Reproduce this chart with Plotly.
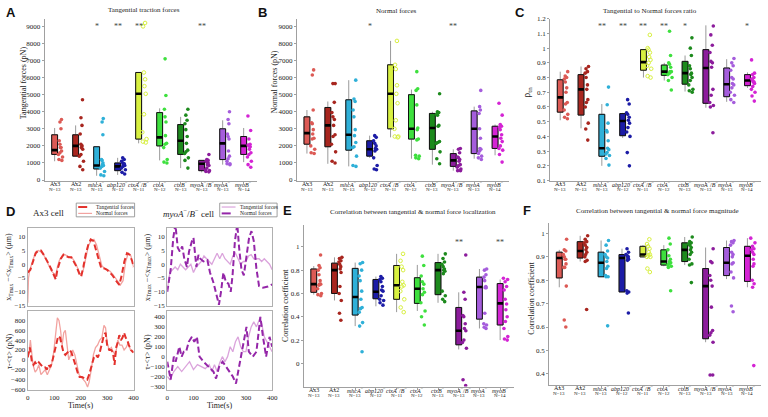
import plotly.graph_objects as go

W, H = 768, 417

# ---------------- data ----------------
categories = ["Ax3", "Ax2", "mhcA", "abp120", "ctxA/B", "ctxA", "ctxB", "myoA/B", "myoA", "myoB"]
tick_labels = ["Ax3", "Ax2", "<i>mhcA</i><sup>−</sup>", "<i>abp120</i><sup>−</sup>",
               "<i>ctxA</i><sup>−</sup>/<i>B</i><sup>−</sup>", "<i>ctxA</i><sup>−</sup>",
               "<i>ctxB</i><sup>−</sup>", "<i>myoA</i><sup>−</sup>/<i>B</i><sup>−</sup>",
               "<i>myoA</i><sup>−</sup>", "<i>myoB</i><sup>−</sup>"]
n_counts = [13, 13, 13, 12, 11, 12, 13, 13, 13, 14]
colors = ["#dc5a55", "#a8261f", "#2fb0d8", "#1c1ca6", "#d8f040", "#3ee03e",
          "#1d8a1d", "#8c1c9c", "#a55ddc", "#d424d4"]

# Panel A: tangential traction forces (pN)
A_pts = [
    [3550, 3400, 3000, 2300, 2100, 1900, 1900, 1700, 1600, 1500, 1350, 1200, 1150],
    [4700, 3650, 3200, 2700, 2100, 2000, 1900, 1800, 1500, 1400, 1100, 800, 600],
    [3600, 3400, 2650, 1200, 1150, 1000, 900, 850, 800, 700, 500, 300, 250],
    [1300, 1200, 1100, 1000, 950, 900, 850, 800, 700, 600, 450, 350],
    [9200, 9000, 6300, 5900, 5500, 5050, 3850, 2800, 2400, 2250, 2200],
    [7100, 4950, 4150, 3700, 3400, 2600, 2150, 2100, 1900, 1200, 1050, 1000],
    [4150, 3800, 3500, 3300, 2950, 2550, 2150, 1750, 1650, 1550, 1300, 1150, 700],
    [1500, 1200, 1150, 1100, 1050, 1000, 900, 850, 700, 600, 550, 500, 480],
    [4000, 3550, 3300, 2700, 2550, 2400, 1700, 1400, 1250, 1100, 950, 950, 900],
    [3750, 2900, 2400, 2100, 2050, 2000, 1950, 1800, 1600, 1500, 1350, 1100, 900, 750],
]
A_q1 = [1500, 1400, 650, 550, 2400, 2000, 1500, 550, 1200, 1500]
A_med = [1750, 2000, 850, 800, 5050, 2500, 2300, 950, 2150, 2000]
A_q3 = [2650, 2650, 1950, 1000, 6300, 3950, 3250, 1150, 3000, 2550]
A_lo = [1100, 1400, 250, 300, 2150, 1150, 700, 450, 900, 1050]
A_hi = [3050, 3200, 1950, 1300, 6300, 4200, 3700, 1150, 3500, 3050]
A_stars = ["", "", "*", "**", "**", "", "", "**", "", ""]

# Panel B: normal forces (pN)
B_pts = [
    [6450, 6150, 4100, 3350, 3300, 2950, 2700, 2450, 2400, 2000, 1800, 1600, 1550],
    [5650, 5650, 4550, 3950, 3700, 3550, 3200, 2650, 2550, 2100, 1650, 1100, 1000],
    [5850, 4750, 4600, 4100, 3700, 2950, 2600, 2200, 1950, 1900, 1400, 850, 800],
    [2600, 2500, 2300, 2150, 2000, 1850, 1800, 1700, 1300, 850, 650, 600],
    [8150, 6750, 6500, 5550, 5050, 4500, 3500, 3000, 2550, 2500, 2550],
    [6350, 5350, 5250, 4400, 3050, 2950, 2400, 2350, 1450, 1400, 1300, 1250],
    [5050, 4000, 3950, 3850, 3800, 3200, 3150, 2250, 2200, 2150, 1650, 1250, 950],
    [1850, 1800, 1600, 1350, 1300, 1200, 1100, 900, 850, 750, 650, 550, 550],
    [5250, 4300, 4100, 3900, 3000, 2450, 1850, 1800, 1700, 1550, 1400, 1300, 1200],
    [4500, 3800, 3250, 3150, 3100, 2950, 2650, 2450, 2250, 2000, 1850, 1750, 1500, 1050],
]
B_q1 = [2100, 1950, 1750, 1400, 3000, 2400, 1800, 800, 1550, 1850]
B_med = [2750, 3200, 2650, 1800, 5050, 3000, 3050, 1150, 3000, 2550]
B_q3 = [3700, 4250, 4700, 2300, 6750, 5000, 3900, 1550, 4050, 3150]
B_lo = [1550, 950, 800, 1300, 2500, 1250, 900, 550, 1250, 1450]
B_hi = [4100, 4600, 5850, 2600, 8150, 5300, 4000, 1800, 4300, 3250]
B_stars = ["", "", "", "*", "", "", "", "**", "", ""]

# Panel C: tangential to normal force ratio
C_pts = [
    [0.84, 0.81, 0.80, 0.79, 0.77, 0.73, 0.70, 0.63, 0.62, 0.58, 0.55, 0.53, 0.52],
    [0.875, 0.86, 0.84, 0.83, 0.80, 0.75, 0.72, 0.65, 0.63, 0.60, 0.49, 0.45, 0.375],
    [0.735, 0.615, 0.49, 0.44, 0.43, 0.37, 0.32, 0.31, 0.29, 0.28, 0.27, 0.25, 0.205],
    [0.65, 0.62, 0.56, 0.55, 0.53, 0.51, 0.49, 0.46, 0.43, 0.40, 0.29, 0.20],
    [1.09, 1.0, 0.99, 0.97, 0.94, 0.92, 0.90, 0.88, 0.86, 0.81, 0.80],
    [1.115, 0.95, 0.90, 0.89, 0.87, 0.84, 0.84, 0.83, 0.82, 0.80, 0.78, 0.715],
    [1.07, 1.0, 0.95, 0.88, 0.86, 0.83, 0.82, 0.80, 0.78, 0.75, 0.72, 0.71, 0.70],
    [1.15, 1.09, 1.02, 0.97, 0.91, 0.90, 0.87, 0.72, 0.68, 0.63, 0.61, 0.60, 0.425],
    [0.93, 0.90, 0.88, 0.85, 0.80, 0.79, 0.76, 0.75, 0.73, 0.70, 0.68, 0.65, 0.63],
    [0.92, 0.83, 0.82, 0.80, 0.79, 0.78, 0.77, 0.77, 0.76, 0.74, 0.72, 0.70, 0.675, 0.64],
]
C_q1 = [0.565, 0.545, 0.265, 0.405, 0.85, 0.815, 0.755, 0.625, 0.67, 0.745]
C_med = [0.665, 0.72, 0.32, 0.505, 0.905, 0.84, 0.83, 0.865, 0.755, 0.78]
C_q3 = [0.785, 0.82, 0.55, 0.555, 0.99, 0.885, 0.91, 0.99, 0.865, 0.82]
C_lo = [0.51, 0.455, 0.2, 0.39, 0.80, 0.78, 0.705, 0.595, 0.635, 0.73]
C_hi = [0.84, 0.875, 0.62, 0.56, 0.99, 0.90, 0.95, 1.155, 0.925, 0.835]
C_stars = ["", "", "**", "**", "**", "**", "*", "", "", "*"]

# Panel E: correlation of localization
E_pts = [
    [0.93, 0.84, 0.82, 0.80, 0.76, 0.71, 0.68, 0.68, 0.67, 0.64, 0.60, 0.59, 0.58],
    [0.91, 0.90, 0.88, 0.87, 0.85, 0.83, 0.81, 0.78, 0.66, 0.60, 0.54, 0.43, 0.37],
    [0.865, 0.855, 0.80, 0.75, 0.71, 0.62, 0.55, 0.48, 0.47, 0.44, 0.35, 0.32, 0.10],
    [0.745, 0.73, 0.72, 0.70, 0.66, 0.63, 0.62, 0.58, 0.55, 0.54, 0.52, 0.50],
    [0.94, 0.88, 0.83, 0.80, 0.70, 0.67, 0.66, 0.62, 0.55, 0.48, 0.44],
    [0.92, 0.84, 0.75, 0.70, 0.68, 0.64, 0.61, 0.59, 0.52, 0.45, 0.40, 0.33],
    [0.94, 0.90, 0.87, 0.85, 0.83, 0.81, 0.80, 0.79, 0.77, 0.62, 0.58, 0.55, 0.53],
    [0.93, 0.61, 0.55, 0.41, 0.40, 0.34, 0.30, 0.28, 0.20, 0.18, 0.13, -0.14, -0.19],
    [0.81, 0.80, 0.76, 0.74, 0.71, 0.66, 0.65, 0.65, 0.43, 0.34, 0.33, 0.31, 0.30],
    [0.73, 0.72, 0.70, 0.66, 0.63, 0.55, 0.51, 0.46, 0.40, 0.36, 0.30, 0.23, 0.21, 0.20],
]
E_q1 = [0.61, 0.60, 0.415, 0.555, 0.55, 0.515, 0.59, 0.16, 0.38, 0.33]
E_med = [0.68, 0.80, 0.57, 0.615, 0.67, 0.64, 0.80, 0.28, 0.655, 0.515]
E_q3 = [0.81, 0.86, 0.815, 0.72, 0.84, 0.735, 0.865, 0.48, 0.74, 0.685]
E_lo = [0.59, 0.54, 0.32, 0.49, 0.44, 0.45, 0.52, 0.12, 0.30, 0.20]
E_hi = [0.835, 0.91, 0.865, 0.745, 0.94, 0.845, 0.94, 0.61, 0.81, 0.72]
E_stars = ["", "", "", "", "", "", "", "**", "", "**"]

# Panel F: correlation of magnitude
F_pts = [
    [0.975, 0.93, 0.925, 0.91, 0.90, 0.89, 0.89, 0.87, 0.855, 0.855, 0.775, 0.63, 0.60],
    [0.99, 0.975, 0.965, 0.96, 0.95, 0.94, 0.93, 0.92, 0.91, 0.90, 0.885, 0.88, 0.675],
    [0.97, 0.95, 0.925, 0.91, 0.90, 0.895, 0.88, 0.86, 0.85, 0.82, 0.815, 0.815, 0.605],
    [0.935, 0.92, 0.91, 0.905, 0.90, 0.895, 0.89, 0.885, 0.755, 0.75, 0.745, 0.66],
    [0.975, 0.955, 0.945, 0.935, 0.92, 0.91, 0.905, 0.90, 0.90, 0.85, 0.835],
    [0.98, 0.955, 0.93, 0.905, 0.89, 0.88, 0.875, 0.87, 0.865, 0.86, 0.855, 0.755],
    [0.985, 0.965, 0.96, 0.955, 0.95, 0.94, 0.93, 0.92, 0.91, 0.89, 0.87, 0.865, 0.79],
    [0.935, 0.88, 0.875, 0.82, 0.80, 0.775, 0.685, 0.585, 0.575, 0.565, 0.535, 0.395, 0.395],
    [0.97, 0.965, 0.96, 0.95, 0.92, 0.91, 0.90, 0.875, 0.87, 0.835, 0.81, 0.69, 0.665],
    [0.98, 0.96, 0.945, 0.935, 0.93, 0.92, 0.91, 0.89, 0.87, 0.86, 0.80, 0.785, 0.77, 0.435],
]
F_q1 = [0.81, 0.895, 0.815, 0.75, 0.90, 0.865, 0.88, 0.55, 0.82, 0.795]
F_med = [0.895, 0.925, 0.875, 0.895, 0.91, 0.88, 0.93, 0.775, 0.875, 0.905]
F_q3 = [0.92, 0.965, 0.92, 0.91, 0.945, 0.93, 0.96, 0.85, 0.94, 0.945]
F_lo = [0.77, 0.88, 0.815, 0.75, 0.90, 0.86, 0.865, 0.535, 0.805, 0.77]
F_hi = [0.93, 0.99, 0.97, 0.935, 0.95, 0.95, 0.985, 0.94, 0.97, 0.98]
F_stars = [""] * 10

# Panel D: time series
ax3_pos_t_time = [0, 10, 20, 30, 40, 50, 60, 70, 80, 90, 100, 106, 112, 118, 125, 135, 145, 155, 165, 175,
                  185, 195, 202, 210, 220, 230, 238, 248, 258, 268, 278, 290, 300, 310, 320, 330, 340, 346,
                  355, 365, 375, 385, 395, 400]
ax3_pos_tang = [-3, -2, 1, 4, 5, 5, 3.5, 2, 0, -2, -4, -5.5, -2, 0, 2, 3.5, 3, 2.5, 2.5, 1,
                -1, -3.5, -4.5, -1, 4, 7.5, 9, 8.5, 5, 1, -1.5, -1.5, -2, -3, -4, -5.5, -7, -7.5,
                -4, 1, 4, 3.5, 1, -1]
ax3_pos_n_time = [0, 3, 8, 15, 22, 30, 40, 50, 60, 70, 80, 90, 100, 106, 112, 120, 130, 140, 150, 160,
                  170, 180, 190, 200, 210, 220, 230, 240, 250, 260, 270, 280, 290, 300, 310, 320, 330,
                  340, 350, 360, 370, 380, 390, 400]
ax3_pos_norm = [-14, -5, -2, 0, 2.5, 4.5, 5, 4.5, 3.5, 1.5, -0.5, -2.5, -3.5, -4, -1, 1.5, 3, 3.5, 3, 2.5,
                2, 0.5, -2, -4, -2, 3, 7, 8.5, 9, 7, 3, -0.5, -1.5, -2, -2.5, -3.5, -5,
                -6.5, -7.5, -6, 1, 4, 3, -1]

ax3_tau_t_time = [0, 5, 8, 12, 16, 22, 28, 35, 42, 50, 58, 65, 72, 78, 85, 92, 100, 108, 115, 122, 128,
                  135, 142, 150, 158, 165, 172, 180, 188, 196, 205, 215, 225, 232, 240, 250, 258, 265,
                  272, 280, 288, 294, 300, 308, 315, 322, 328, 334, 340, 346, 352, 358, 364, 370, 376,
                  382, 390, 400]
ax3_tau_tang = [50, 150, 250, 100, -50, -100, -50, -100, -50, -100, -150, -150, -200, -100, -150, -50,
                150, 350, 480, 450, 300, 150, 100, 150, 200, 150, 50, -100, -250, -350, -350, -380,
                -400, -300, -150, 50, 100, 50, 150, 300, 500, 550, 300, 200, 200, 150, -100, 250,
                350, 500, 400, 450, 550, 450, 400, 300, 200, 150]
ax3_tau_n_time = [0, 5, 10, 15, 20, 28, 35, 42, 50, 58, 66, 74, 82, 90, 98, 105, 112, 118, 124, 130, 136,
                  142, 148, 155, 162, 170, 178, 186, 194, 202, 210, 218, 226, 232, 240, 248, 256, 264,
                  272, 280, 288, 294, 300, 308, 316, 324, 332, 340, 348, 356, 364, 372, 380, 388, 396, 400]
ax3_tau_norm = [50, 150, 400, 100, -100, -250, -200, -100, -300, -250, -200, -300, -200, -100, 150, 500,
                850, 800, 600, 300, 550, 600, 250, 0, 100, 200, 100, -100, -300, -350, -400, -450,
                -550, -450, -200, 100, 250, 300, 400, 450, 700, 650, 350, 200, 250, 150, 100, 400,
                300, 300, 200, 250, 350, 200, 150, 150]

myo_pos_n_time = [0, 13, 23, 31, 40, 48, 57, 65, 75, 83, 94, 100, 111, 119, 126, 138, 153, 163, 176, 189,
                  197, 205, 214, 224, 233, 242, 249, 258, 267, 274, 283, 292, 302, 312, 321, 330, 340,
                  350, 365, 384, 400]
myo_pos_norm = [-10, -2, 9.6, 14.5, 6, 4.6, 6.5, 2, -1, 4.6, 8.4, 9.6, -1, 3.4, 2, 1, 1.5, -3, -6.6,
                -11.6, -14.7, -10, -3, -6.6, -7, -10, -4, 8.4, 14.6, 6, -2, -4, 2, 9.6, 12, 8.4,
                -1.6, -7.9, -8.5, -8.1, -7.3]
myo_pos_t_time = [0, 10, 20, 30, 40, 50, 60, 70, 80, 90, 100, 110, 120, 130, 140, 150, 160, 170, 180, 190,
                  200, 210, 220, 230, 240, 250, 260, 270, 280, 290, 300, 310, 320, 330, 340, 350, 360,
                  370, 380, 390, 400]
myo_pos_tang = [-9, -3, -2, -1, -2, 0, -1, -2, -1, 0, -3, -1, 0, 1, 3, 2, 1, 0, 2, 4, 2, 4, 2, 1, 0, 3,
                4, 2, 0, 1, 1, 3, 3.5, 2, 2, 2, 1, 2, 1, 0, -2]

myo_tau_n_time = [0, 13, 25, 32, 46, 55, 63, 72, 82, 94, 103, 113, 123, 138, 157, 176, 186, 198, 211,
                  224, 237, 250, 262, 274, 287, 302, 311, 326, 340, 355, 365, 377, 390, 400]
myo_tau_norm = [-50, -230, 0, -50, 100, 0, 50, 50, 150, 200, 150, 200, 0, -50, -100, -150, -220, -100,
                -50, -100, -150, -200, -270, -100, 100, 300, 50, 0, 50, 400, 200, 0, 200, 100]
myo_tau_t_time = [0, 10, 25, 40, 55, 70, 85, 100, 115, 130, 145, 160, 170, 180, 190, 200, 210, 220, 230,
                  240, 250, 260, 270, 280, 290, 300, 310, 320, 330, 340, 355, 370, 380, 390, 400]
myo_tau_tang = [-200, -230, -150, -100, -150, -100, -50, -130, -80, -100, -120, -80, -150, -80, -150,
                -60, 0, -50, 0, 100, 50, 150, 200, 100, 50, 50, 200, 300, 350, 300, 400, 200, 150,
                100, 50]

# ---------------- helpers ----------------
SERIF = "Liberation Serif"
SANS = "Liberation Sans"


def px_x(a, b):
    return [a / W, b / W]


def px_y(top, bottom):
    return [1 - bottom / H, 1 - top / H]


fig = go.Figure()
annotations = []
shapes = []

box_panels = [
    dict(k=1, pts=A_pts, q1=A_q1, med=A_med, q3=A_q3, lo=A_lo, hi=A_hi, stars=A_stars, star_y=9000,
         xpx=(43, 258), ypx=(15, 180), yr=[-30, 9450], dt=1000, t0=1000,
         title="Tangential traction forces", txy=(143, 6), ytitle="Tangential forces (pN)", ytxy=(22, 80),
         letter="A", lxy=(9, 9)),
    dict(k=2, pts=B_pts, q1=B_q1, med=B_med, q3=B_q3, lo=B_lo, hi=B_hi, stars=B_stars, star_y=9000,
         xpx=(298, 512), ypx=(15, 180), yr=[-30, 9450], dt=1000, t0=1000,
         title="Normal forces", txy=(399, 7), ytitle="Normal forces (pN)", ytxy=(275, 80),
         letter="B", lxy=(263, 9)),
    dict(k=3, pts=C_pts, q1=C_q1, med=C_med, q3=C_q3, lo=C_lo, hi=C_hi, stars=C_stars, star_y=1.145,
         xpx=(554, 767), ypx=(15, 180), yr=[0.1, 1.2], dt=0.1, t0=0.1,
         title="Tangential to Normal forces ratio", txy=(655, 7), ytitle="ρ<sub>tn</sub>", ytxy=(531, 90),
         letter="C", lxy=(523, 9)),
    dict(k=4, pts=E_pts, q1=E_q1, med=E_med, q3=E_q3, lo=E_lo, hi=E_hi, stars=E_stars, star_y=1.035,
         xpx=(305, 517), ypx=(225, 390), yr=[-0.198, 1.19], dt=0.2, t0=0,
         title="Correlation between tangential &amp; normal force localization", txy=(415, 212),
         ytitle="Correlation coefficient", ytxy=(286, 308), letter="E", lxy=(288, 211)),
    dict(k=5, pts=F_pts, q1=F_q1, med=F_med, q3=F_q3, lo=F_lo, hi=F_hi, stars=F_stars, star_y=1.03,
         xpx=(553, 767), ypx=(223, 388), yr=[0.354, 1.046], dt=0.1, t0=0.4,
         title="Correlation between tangential &amp; normal force magnitude", txy=(662, 211),
         ytitle="Correlation coefficient", ytxy=(535, 300), letter="F", lxy=(531, 211)),
]

BW = 0.28
positions = list(range(1, 11))

for p in box_panels:
    k = p["k"]
    xa, ya = f"x{k}", f"y{k}"
    fig.add_trace(go.Box(x=positions, q1=p["q1"], median=p["med"], q3=p["q3"],
                         lowerfence=p["lo"], upperfence=p["hi"], xaxis=xa, yaxis=ya,
                         line=dict(color="#9a9a9a", width=1), fillcolor="rgba(0,0,0,0)",
                         whiskerwidth=0, width=BW, boxpoints=False, showlegend=False,
                         hoverinfo="skip"))
    for i in range(10):
        fig.add_trace(go.Box(x=[positions[i]], q1=[p["q1"][i]], median=[p["med"][i]], q3=[p["q3"][i]],
                             lowerfence=[p["q1"][i]], upperfence=[p["q3"][i]], xaxis=xa, yaxis=ya,
                             line=dict(color="#111111", width=1), fillcolor=colors[i],
                             whiskerwidth=0, width=BW, boxpoints=False, showlegend=False,
                             hoverinfo="skip"))
    fig.add_trace(go.Box(x=positions, q1=p["med"], median=p["med"], q3=p["med"],
                         lowerfence=p["med"], upperfence=p["med"], xaxis=xa, yaxis=ya,
                         line=dict(color="#000000", width=2.6), fillcolor="rgba(0,0,0,0)",
                         whiskerwidth=0, width=BW, boxpoints=False, showlegend=False,
                         hoverinfo="skip"))
    for i in range(10):
        open_marker = categories[i] == "ctxA/B"
        fig.add_trace(go.Box(x0=positions[i], y=p["pts"][i], xaxis=xa, yaxis=ya,
                             boxpoints="all", jitter=0.9, pointpos=2.0, width=BW,
                             line=dict(color="rgba(0,0,0,0)", width=0), fillcolor="rgba(0,0,0,0)",
                             marker=dict(color=colors[i], size=3.6,
                                         symbol="circle-open" if open_marker else "circle",
                                         line=dict(width=1 if open_marker else 0, color=colors[i])),
                             showlegend=False, hoverinfo="skip"))
    x0, x1 = p["xpx"]
    ytop, ybot = p["ypx"]
    axis_common = dict(showgrid=False, zeroline=False, showline=True, linecolor="#a0a0a0",
                       linewidth=1, ticks="outside", ticklen=2, tickcolor="#a0a0a0",
                       tickfont=dict(family=SERIF, size=7, color="#222"))
    fig.update_layout({
        f"xaxis{k}": dict(domain=px_x(x0, x1), anchor=ya, range=[0.52, 10.65],
                          tickvals=positions, showticklabels=False, **axis_common),
        f"yaxis{k}": dict(domain=px_y(ytop, ybot), anchor=xa, range=p["yr"],
                          tick0=p["t0"], dtick=p["dt"], **axis_common),
    })
    for i in range(10):
        annotations.append(dict(x=positions[i], y=1 - (ybot + 3.5) / H, xref=xa, yref="paper",
                                text=tick_labels[i], showarrow=False,
                                font=dict(family=SERIF, size=6, color="#222"),
                                xanchor="center", yanchor="middle"))
        annotations.append(dict(x=positions[i], y=1 - (ybot + 9) / H, xref=xa, yref="paper",
                                text=f"N={n_counts[i]}", showarrow=False,
                                font=dict(family=SERIF, size=5, color="#222"),
                                xanchor="center", yanchor="middle"))
    for i in range(10):
        if p["stars"][i]:
            annotations.append(dict(x=positions[i], y=p["star_y"], xref=xa, yref=ya,
                                    text=p["stars"][i], showarrow=False,
                                    font=dict(family=SERIF, size=8, color="#444"),
                                    xanchor="center", yanchor="middle"))
    tx, ty = p["txy"]
    annotations.append(dict(x=tx / W, y=1 - ty / H, xref="paper", yref="paper", text=p["title"],
                            showarrow=False, font=dict(family=SERIF, size=7, color="#222"),
                            xanchor="center", yanchor="middle"))
    yx, yy = p["ytxy"]
    annotations.append(dict(x=yx / W, y=1 - yy / H, xref="paper", yref="paper", text=p["ytitle"],
                            showarrow=False, textangle=-90,
                            font=dict(family=SERIF, size=8 if k != 3 else 10, color="#222"),
                            xanchor="center", yanchor="middle"))
    lx, ly = p["lxy"]
    annotations.append(dict(x=lx / W, y=1 - ly / H, xref="paper", yref="paper", text=f"<b>{p['letter']}</b>",
                            showarrow=False, font=dict(family=SANS, size=13, color="#111"),
                            xanchor="center", yanchor="middle"))

# ---------------- panel D ----------------
d_axes = [
    (6, (26, 133), (228, 308), [-15.2, 13.3], 5, False),
    (7, (26, 133), (313, 394), [-620, 990], 200, True),
    (8, (167, 273), (228, 308), [-15.2, 13.3], 5, False),
    (9, (167, 273), (313, 394), [-340, 460], 100, True),
]
for k, (xa0, xa1), (yt, yb), yr, dt, showx in d_axes:
    common = dict(showgrid=False, zeroline=False, showline=True, linecolor="#b0b0b0", linewidth=1,
                  mirror=True, ticks="", tickfont=dict(family=SERIF, size=7, color="#222"))
    fig.update_layout({
        f"xaxis{k}": dict(domain=px_x(xa0, xa1), anchor=f"y{k}", range=[0, 400], dtick=100,
                          showticklabels=showx, **common),
        f"yaxis{k}": dict(domain=px_y(yt, yb), anchor=f"x{k}", range=yr, dtick=dt, **common),
    })

red_dash = "#e3312c"
red_light = "#f2a3a0"
pur_dash = "#9426a8"
pur_light = "#dba4dc"

fig.add_trace(go.Scatter(x=ax3_pos_n_time, y=ax3_pos_norm, xaxis="x6", yaxis="y6", mode="lines",
                         line=dict(color=red_light, width=1.3), showlegend=False, hoverinfo="skip"))
fig.add_trace(go.Scatter(x=ax3_pos_t_time, y=ax3_pos_tang, xaxis="x6", yaxis="y6", mode="lines",
                         line=dict(color=red_dash, width=2, dash="6px,3px"), showlegend=False, hoverinfo="skip"))
fig.add_trace(go.Scatter(x=ax3_tau_n_time, y=ax3_tau_norm, xaxis="x7", yaxis="y7", mode="lines",
                         line=dict(color=red_light, width=1.3), showlegend=False, hoverinfo="skip"))
fig.add_trace(go.Scatter(x=ax3_tau_t_time, y=ax3_tau_tang, xaxis="x7", yaxis="y7", mode="lines",
                         line=dict(color=red_dash, width=2, dash="6px,3px"), showlegend=False, hoverinfo="skip"))
fig.add_trace(go.Scatter(x=myo_pos_t_time, y=myo_pos_tang, xaxis="x8", yaxis="y8", mode="lines",
                         line=dict(color=pur_light, width=1.3), showlegend=False, hoverinfo="skip"))
fig.add_trace(go.Scatter(x=myo_pos_n_time, y=myo_pos_norm, xaxis="x8", yaxis="y8", mode="lines",
                         line=dict(color=pur_dash, width=2, dash="6px,3px"), showlegend=False, hoverinfo="skip"))
fig.add_trace(go.Scatter(x=myo_tau_t_time, y=myo_tau_tang, xaxis="x9", yaxis="y9", mode="lines",
                         line=dict(color=pur_light, width=1.3), showlegend=False, hoverinfo="skip"))
fig.add_trace(go.Scatter(x=myo_tau_n_time, y=myo_tau_norm, xaxis="x9", yaxis="y9", mode="lines",
                         line=dict(color=pur_dash, width=2, dash="6px,3px"), showlegend=False, hoverinfo="skip"))


def pa(text, x, y, size, family=SERIF, angle=0, anchor="center", color="#222"):
    annotations.append(dict(x=x / W, y=1 - y / H, xref="paper", yref="paper", text=text,
                            showarrow=False, textangle=angle, xanchor=anchor, yanchor="middle",
                            font=dict(family=family, size=size, color=color)))


pa("<b>D</b>", 9, 212, 13, family=SANS, color="#111")
pa("Ax3 cell", 29, 213, 9, anchor="left")
pa("<i>myoA</i><sup>−</sup>/<i>B</i><sup>−</sup> cell", 161, 213, 9, anchor="left")
ylab_pos = "x<sub>Tmax</sub> −&lt;x<sub>Tmax</sub>&gt; (μm)"
ylab_tau = "τ-&lt;τ&gt; (pN)"
pa(ylab_pos, 7, 268, 8, angle=-90)
pa(ylab_tau, 7, 354, 8, angle=-90)
pa(ylab_pos, 147, 268, 8, angle=-90)
pa(ylab_tau, 147, 354, 8, angle=-90)
pa("Time(s)", 79, 409, 8)
pa("Time(s)", 220, 409, 8)

for (bx0, bx1, c_t, d_t, c_n, d_n) in [(75, 134, red_dash, "dash", red_light, "solid"),
                                        (220, 278, pur_light, "solid", pur_dash, "dash")]:
    shapes.append(dict(type="rect", xref="paper", yref="paper", x0=bx0 / W, x1=bx1 / W,
                       y0=1 - 217 / H, y1=1 - 203 / H, line=dict(color="#888", width=0.8),
                       fillcolor="white", layer="above"))
    shapes.append(dict(type="line", xref="paper", yref="paper", x0=(bx0 + 2) / W, x1=(bx0 + 16) / W,
                       y0=1 - 207 / H, y1=1 - 207 / H,
                       line=dict(color=c_t, width=2 if d_t == "dash" else 1.2, dash=d_t)))
    shapes.append(dict(type="line", xref="paper", yref="paper", x0=(bx0 + 2) / W, x1=(bx0 + 16) / W,
                       y0=1 - 213.5 / H, y1=1 - 213.5 / H,
                       line=dict(color=c_n, width=2 if d_n == "dash" else 1.2, dash=d_n)))
    pa("Tangential forces", bx0 + 18, 207, 5.5, anchor="left")
    pa("Normal forces", bx0 + 18, 213.5, 5.5, anchor="left")

fig.update_layout(
    width=W, height=H, margin=dict(l=0, r=0, t=0, b=0),
    paper_bgcolor="white", plot_bgcolor="white",
    boxmode="overlay", showlegend=False, hovermode=False,
    annotations=annotations, shapes=shapes,
    font=dict(family=SERIF, size=7, color="#222"),
)

fig.write_html("out.html", config={"displayModeBar": False, "staticPlot": True},
               post_script="document.body.style.margin='0';document.body.style.overflow='hidden';")
